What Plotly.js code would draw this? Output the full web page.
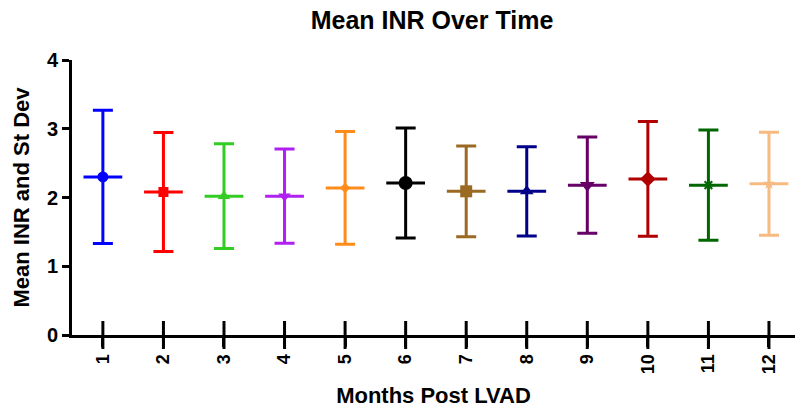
<!DOCTYPE html>
<html><head><meta charset="utf-8">
<script src="https://cdn.plot.ly/plotly-3.0.1.min.js"></script>
<style>html,body{margin:0;padding:0;background:#fff}#chart{width:800px;height:408px}</style>
</head><body><div id="chart"></div>
<script>
const months = [1,2,3,4,5,6,7,8,9,10,11,12];
const monthLabels = ["1","2","3","4","5","6","7","8","9","10","11","12"];
const meanINR = [2.30,2.08,2.02,2.02,2.14,2.21,2.09,2.09,2.18,2.27,2.18,2.20];
const stDev = [0.97,0.865,0.76,0.685,0.82,0.80,0.66,0.65,0.70,0.835,0.80,0.75];

const colors = ["#0000ff","#ff0000","#33cc22","#b020f0","#ff8c1a","#000000","#9a6a22","#000088","#660066","#b00000","#006600","#f7ba80"];
const symbols = ["circle","square","triangle-up","triangle-down","diamond","circle","square","triangle-up","triangle-down","diamond","asterisk-open","star"];
const sizes = [11,10,11,11,8,14,12,12,13,12,9,9];

// crossing tick marks on the x axis (GraphPad style), placed at each month on the baseline
const traces = [{
  type:'scatter', mode:'markers', x:months, y:months.map(()=>0), cliponaxis:false,
  marker:{symbol:'line-ns', size:20, color:'#000', line:{color:'#000', width:3}},
  showlegend:false, hoverinfo:'skip'
}];
months.forEach((m,i)=>traces.push({
  type:'scatter', mode:'markers',
  x:[m], y:[meanINR[i]],
  marker:{color:colors[i], symbol:symbols[i], size:sizes[i], line:{color:colors[i], width: symbols[i]==='asterisk-open'?2:0}},
  error_y:{type:'data', array:[stDev[i]], visible:true, color:colors[i], thickness:3, width:10},
  error_x:{type:'data', array:[0.32], visible:true, color:colors[i], thickness:3, width:0},
  showlegend:false, hoverinfo:'skip'
}));

const font = "Arial, 'Liberation Sans', sans-serif";
const layout = {
  width:800, height:408,
  margin:{l:72, r:5, t:60, b:73},
  paper_bgcolor:'#fff', plot_bgcolor:'#fff',
  title:{text:'<b>Mean INR Over Time</b>', font:{family:font, size:25, color:'#000'}, x:0.54, xanchor:'center', y:0.95, yanchor:'middle'},
  xaxis:{range:[0.49,12.43], tickmode:'array', tickvals:months, ticktext:monthLabels, tickangle:-90,
    showgrid:false, zeroline:false, showline:true, linecolor:'#000', linewidth:3,
    ticks:'outside', ticklen:9, tickwidth:3, tickcolor:'#000',
    tickfont:{family:font, size:18, color:'#000', weight:'bold'},
    title:{text:'<b>Months Post LVAD</b>', font:{family:font, size:22, color:'#000'}, standoff:15}},
  yaxis:{range:[0,4], tickmode:'array', tickvals:[0,1,2,3,4], showgrid:false, zeroline:false, showline:true, linecolor:'#000', linewidth:3,
    ticks:'outside', ticklen:7, tickwidth:3, tickcolor:'#000',
    tickfont:{family:font, size:20, color:'#000', weight:'bold'},
    title:{text:'<b>Mean INR and St Dev</b>', font:{family:font, size:22, color:'#000'}, standoff:12}}
};
Plotly.newPlot('chart', traces, layout, {displayModeBar:false, staticPlot:true});
</script></body></html>
